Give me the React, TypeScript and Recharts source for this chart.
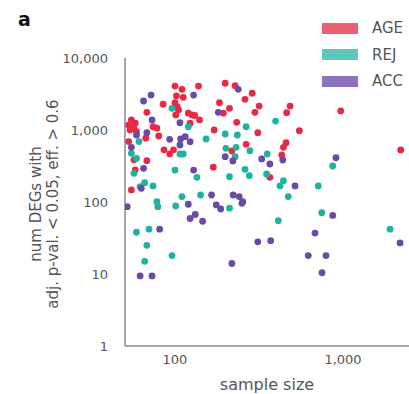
import React from 'react';
import { ScatterChart, Scatter, XAxis, YAxis, Label } from 'recharts';

// [sample size, num DEGs]
const agePoints: [number, number][] = [
  [100, 4080], [110, 3670], [138, 4080], [102, 2970], [112, 2840], [85, 2280],
  [100, 2390], [103, 2110], [105, 1900], [101, 1620], [120, 1710], [126, 1620],
  [131, 1590], [140, 1380], [123, 1240], [68, 1760], [55, 1380], [53, 1170],
  [58, 1240], [57, 1060], [54, 1000], [59, 950], [74, 1110], [78, 1060],
  [80, 825], [67, 770], [53, 690], [86, 530], [93, 465], [98, 530],
  [57, 385], [68, 375], [58, 280], [169, 305], [55, 147], [171, 1000],
  [184, 2390], [199, 4460], [228, 4130], [288, 3240], [261, 2670], [211, 2000],
  [194, 1710], [317, 2150], [299, 1760], [484, 2150], [462, 1740], [233, 1280],
  [311, 917], [550, 980], [265, 633], [458, 666], [442, 575], [432, 450],
  [218, 511], [367, 220], [969, 1840], [2205, 528],
];

const rejPoints: [number, number][] = [
  [96, 2000], [120, 1110], [61, 690], [55, 474], [59, 404], [57, 250],
  [100, 278], [135, 220], [107, 464], [112, 464], [153, 750], [62, 163],
  [66, 185], [74, 167], [78, 101], [110, 119], [142, 125], [397, 1330],
  [265, 1110], [199, 880], [235, 852], [201, 557], [231, 575], [279, 516],
  [228, 426], [354, 464], [261, 284], [277, 232], [211, 225], [351, 245],
  [442, 198], [422, 167], [472, 119], [713, 167], [868, 316], [79, 86],
  [101, 88], [211, 82], [412, 55], [747, 71], [1905, 42], [59, 38],
  [70, 42], [68, 25], [96, 18], [66, 15],
];

const accPoints: [number, number][] = [
  [72, 3060], [65, 2530], [129, 3060], [73, 1380], [68, 917], [59, 852],
  [55, 575], [93, 743], [108, 750], [115, 807], [123, 688], [107, 619],
  [107, 1260], [65, 294], [129, 278], [63, 155], [165, 125], [181, 1760],
  [238, 3670], [199, 426], [221, 371], [328, 396], [367, 337], [438, 383],
  [518, 167], [222, 125], [241, 119], [253, 101], [908, 412], [52, 86],
  [120, 93], [123, 59], [132, 67], [146, 54], [176, 91], [187, 80],
  [250, 96], [81, 42], [681, 37], [311, 28], [371, 29], [621, 18],
  [218, 14], [750, 10.4], [868, 65], [2185, 27], [792, 18], [62, 9.4],
  [73, 9.4],
];

const seriesNames = ['AGE', 'REJ', 'ACC'];
const pointColors = ['#e62a45', '#1fb2a3', '#6a4aa6'];
const swatchColors = ['#ea6272', '#5ec7bb', '#8f72bf'];

const xTicks = [100, 1000];
const yTicks = [1, 10, 100, 1000, 10000];

const toRows = (pts: [number, number][]) => pts.map(([x, y]) => ({ x, y }));

const fmt = (v: number) => v.toLocaleString('en-US');

const dot = (color: string) => (props: any) => (
  <circle cx={props.cx} cy={props.cy} r={3.4} fill={color} />
);

const font = '"DejaVu Sans", sans-serif';

const YTitle = () => (
  <g fill="#555" fontFamily={font} fontSize={15}>
    <text x={41} y={204} textAnchor="middle" transform="rotate(-90 41 204)">num DEGs with</text>
    <text x={58} y={204} textAnchor="middle" transform="rotate(-90 58 204)">
      adj. p-val. &lt; 0.05, eff. &gt; 0.6
    </text>
  </g>
);

const App: React.FC = () => {
  const series = [agePoints, rejPoints, accPoints];
  return (
    <div style={{ position: 'absolute', left: 0, top: 0, width: 409, height: 394, background: '#fff' }}>
      <div style={{ position: 'absolute', left: 18, top: 8, fontFamily: font, fontWeight: 'bold', fontSize: 19, color: '#111' }}>
        a
      </div>
      <div style={{ position: 'absolute', left: 322, top: 15, fontFamily: font, fontSize: 15, color: '#555' }}>
        {seriesNames.map((name, i) => (
          <div key={name} style={{ display: 'flex', alignItems: 'center', height: 26.5 }}>
            <div style={{ width: 36, height: 11, background: swatchColors[i], marginRight: 14 }} />
            <span>{name}</span>
          </div>
        ))}
      </div>
      <ScatterChart width={409} height={394} margin={{ top: 58, right: 0, bottom: 0, left: 0 }}>
        <XAxis
          type="number"
          dataKey="x"
          scale="log"
          domain={[50.4, 2470]}
          allowDataOverflow
          ticks={xTicks}
          tickFormatter={fmt}
          tickLine={false}
          tickSize={0}
          tickMargin={9}
          height={48}
          axisLine={{ stroke: '#888', strokeWidth: 1.5 }}
          tick={{ fill: '#555', fontSize: 13, fontFamily: font }}
        >
          <Label value="sample size" position="insideBottom" offset={4} fill="#555" fontSize={16} fontFamily={font} />
        </XAxis>
        <YAxis
          type="number"
          dataKey="y"
          scale="log"
          domain={[1, 10000]}
          allowDataOverflow
          ticks={yTicks}
          tickFormatter={fmt}
          tickLine={false}
          tickSize={0}
          tickMargin={17}
          width={125}
          axisLine={{ stroke: '#888', strokeWidth: 1.5 }}
          tick={{ fill: '#555', fontSize: 13, fontFamily: font }}
        >
          <Label content={<YTitle />} />
        </YAxis>
        {series.map((pts, i) => (
          <Scatter
            key={seriesNames[i]}
            name={seriesNames[i]}
            data={toRows(pts)}
            fill={pointColors[i]}
            shape={dot(pointColors[i])}
            isAnimationActive={false}
          />
        ))}
      </ScatterChart>
    </div>
  );
};

export default App;
